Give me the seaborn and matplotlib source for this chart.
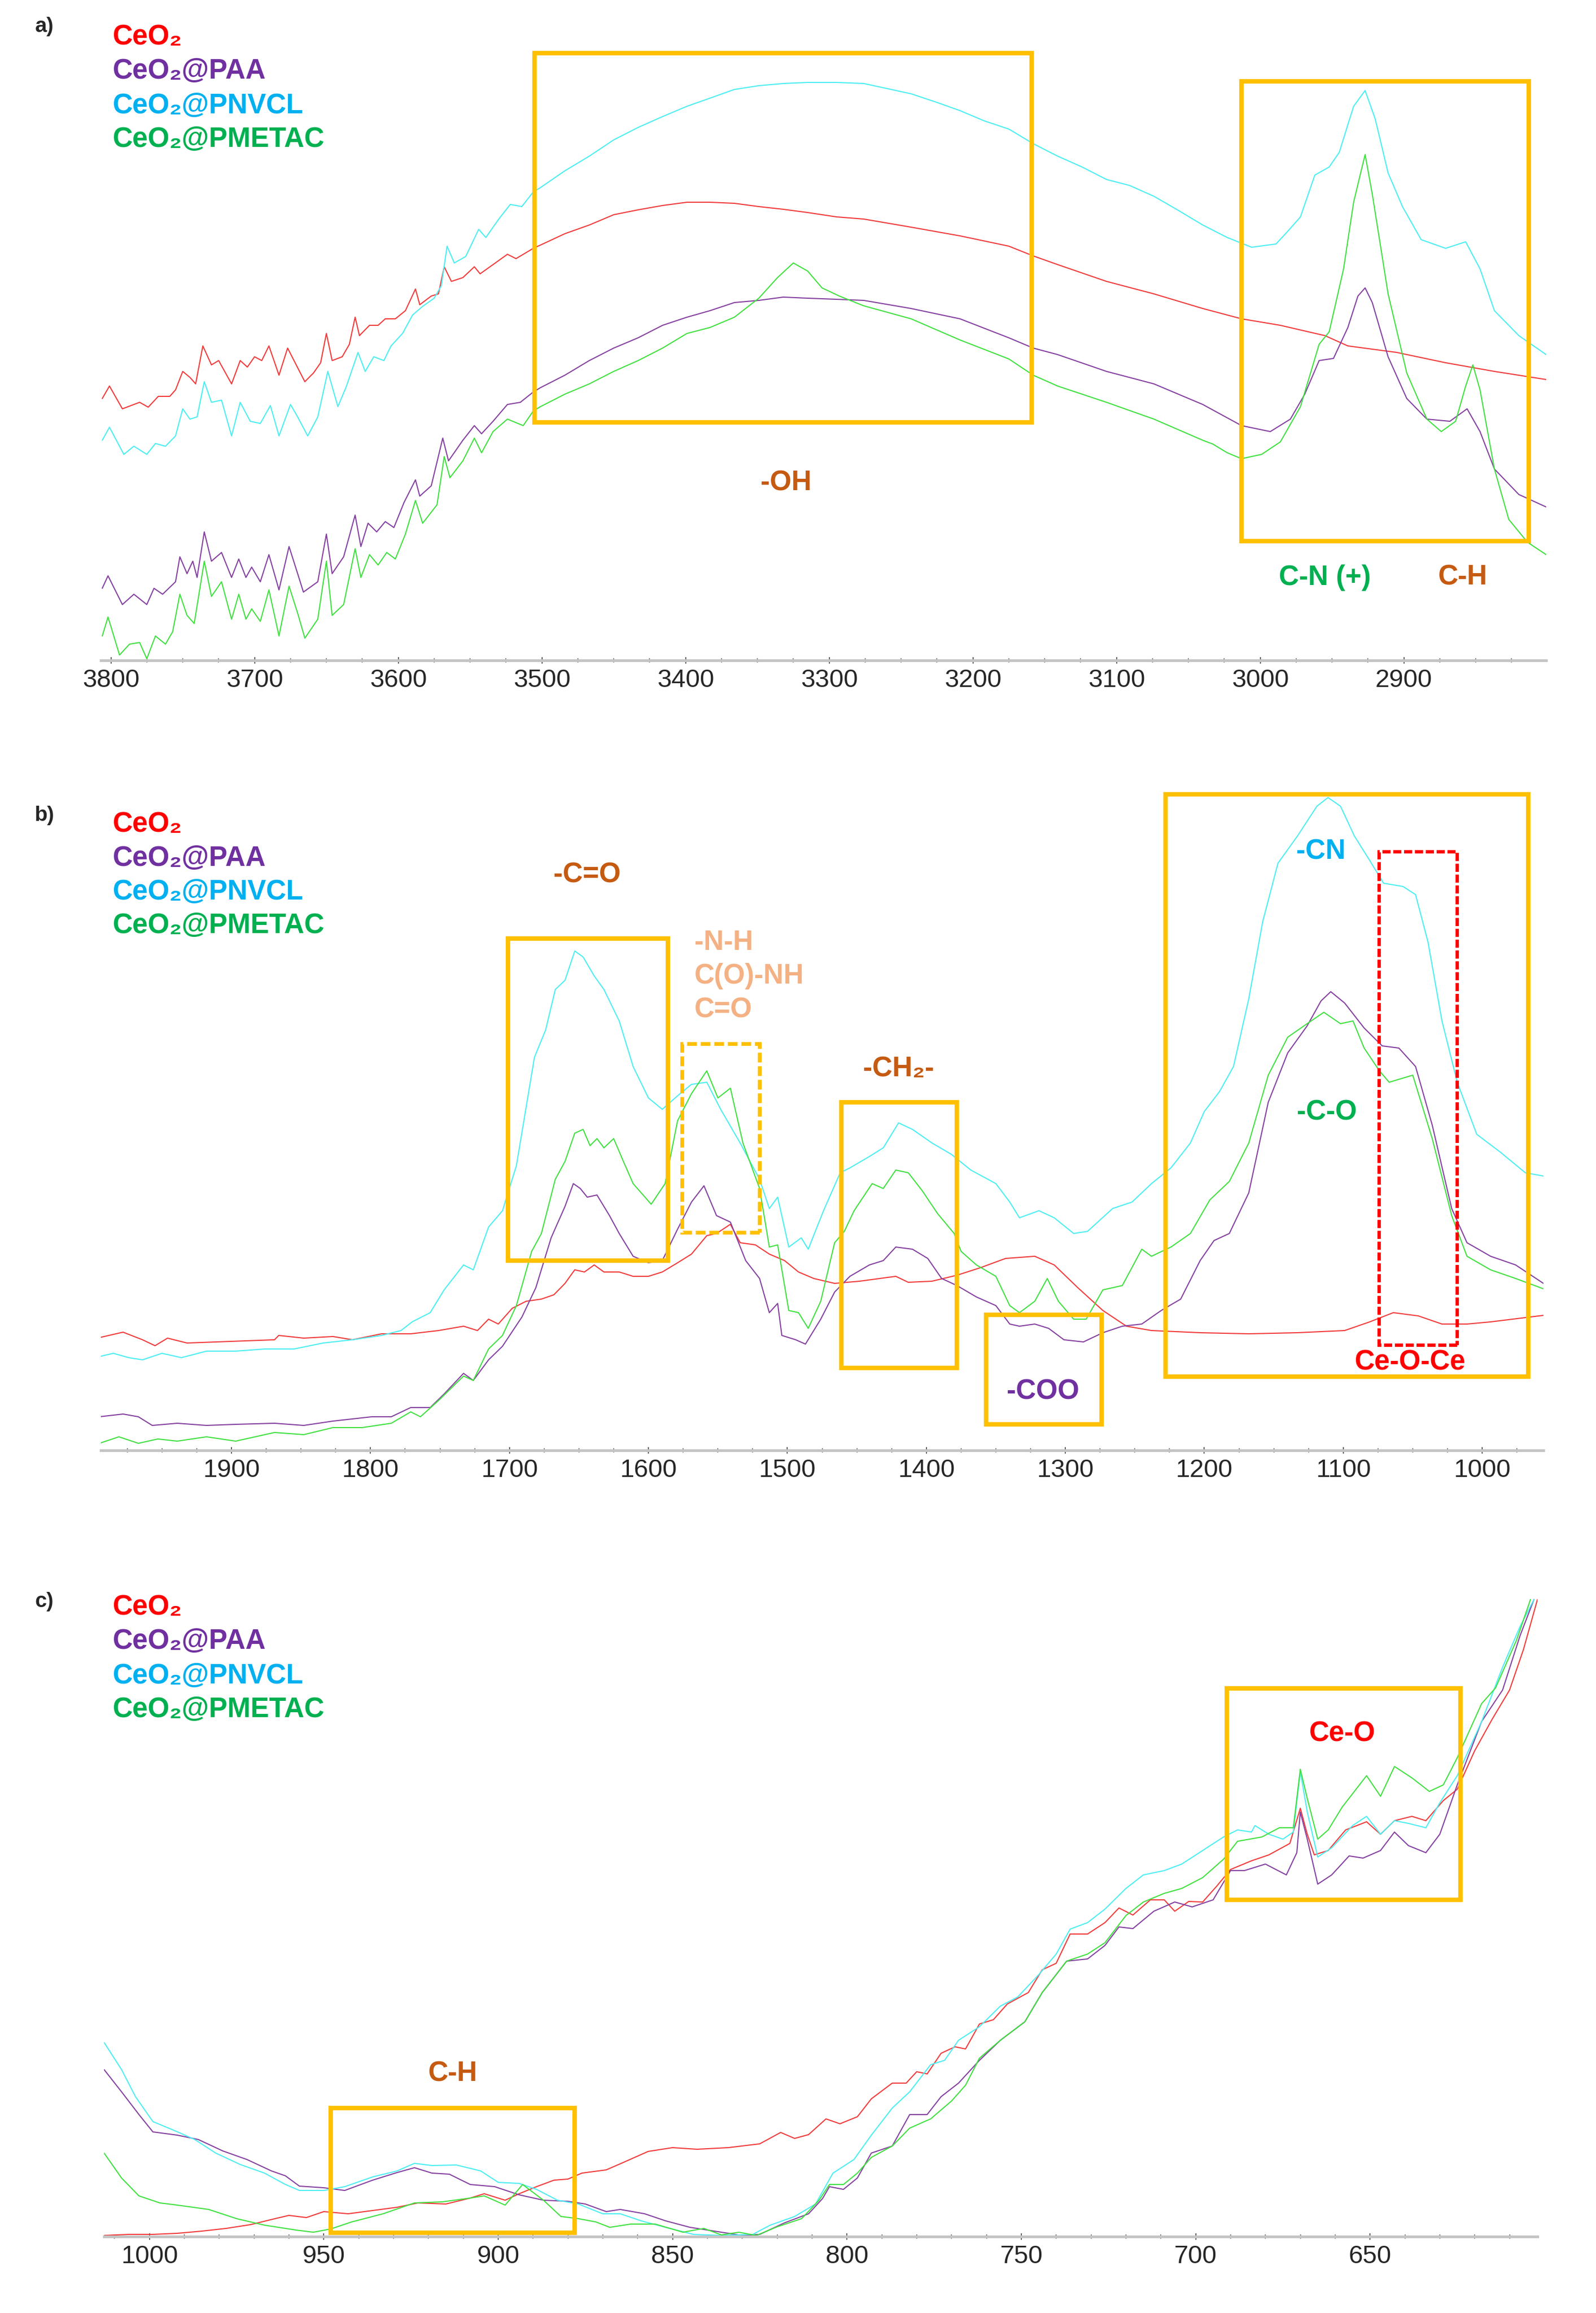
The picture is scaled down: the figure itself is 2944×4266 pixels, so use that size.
import matplotlib
matplotlib.use("Agg")
import matplotlib.pyplot as plt
from matplotlib.patches import Rectangle
from matplotlib.ticker import MultipleLocator
import pandas as pd
import seaborn as sns

samples = ['CeO₂', 'CeO₂@PAA', 'CeO₂@PNVCL', 'CeO₂@PMETAC']
line_colors = ['#F23A3A', '#8540A0', '#4CEEF2', '#40E040']
label_colors = ['#FF0000', '#7030A0', '#00B0F0', '#00B050']

# panel a) 3800-2800 cm-1, (wavenumber, signal)
a_ceo2 = [(3806, 483), (3801, 506), (3792, 464), (3780, 476), (3774, 467), (3767, 487), (3759, 487), (3755, 499),
          (3750, 533), (3745, 522), (3741, 510), (3736, 580), (3730, 545), (3725, 553), (3716, 510), (3710, 553),
          (3705, 541), (3700, 560), (3695, 553), (3690, 580), (3683, 526), (3677, 576), (3671, 545), (3665, 514),
          (3659, 530), (3654, 549), (3650, 603), (3646, 553), (3639, 560), (3634, 583), (3630, 633), (3627, 599),
          (3620, 618), (3614, 618), (3609, 630), (3602, 630), (3595, 645), (3588, 685), (3585, 656), (3577, 672),
          (3572, 676), (3568, 726), (3563, 699), (3555, 706), (3547, 726), (3543, 713), (3534, 730), (3524, 749),
          (3518, 741), (3506, 760), (3501, 766), (3484, 787), (3467, 803), (3450, 822), (3433, 831), (3416, 839),
          (3399, 845), (3383, 845), (3366, 843), (3349, 837), (3332, 832), (3315, 826), (3295, 818), (3276, 814),
          (3243, 799), (3209, 783), (3175, 764), (3158, 746), (3141, 730), (3107, 699), (3074, 676), (3040, 649),
          (3013, 630), (2986, 618), (2955, 599), (2939, 580), (2905, 568), (2871, 549), (2837, 533), (2801, 518)]
a_paa = [(3806, 133), (3802, 156), (3792, 103), (3784, 122), (3775, 103), (3770, 133), (3764, 122), (3755, 145),
         (3752, 191), (3747, 160), (3743, 183), (3740, 153), (3735, 237), (3730, 183), (3723, 199), (3716, 153),
         (3711, 187), (3706, 153), (3702, 172), (3696, 145), (3690, 195), (3683, 130), (3676, 210), (3670, 160),
         (3666, 126), (3656, 145), (3650, 233), (3646, 160), (3638, 191), (3630, 268), (3626, 210), (3621, 253),
         (3615, 237), (3609, 256), (3603, 245), (3596, 291), (3588, 333), (3585, 303), (3577, 322), (3569, 410),
         (3565, 368), (3555, 406), (3547, 433), (3542, 418), (3534, 441), (3524, 472), (3515, 476), (3506, 495),
         (3501, 503), (3484, 526), (3467, 553), (3450, 576), (3433, 595), (3416, 618), (3399, 633), (3383, 645),
         (3366, 660), (3349, 664), (3332, 670), (3315, 668), (3295, 666), (3276, 664), (3243, 649), (3209, 630),
         (3175, 595), (3158, 576), (3141, 564), (3107, 533), (3074, 510), (3040, 472), (3013, 433), (2993, 422),
         (2979, 445), (2969, 491), (2959, 553), (2949, 557), (2939, 614), (2932, 672), (2927, 687), (2922, 660),
         (2911, 560), (2898, 483), (2884, 445), (2868, 441), (2856, 464), (2847, 422), (2837, 353), (2820, 306),
         (2801, 283)]
a_pnvcl = [(3806, 406), (3801, 430), (3791, 380), (3784, 395), (3775, 380), (3769, 400), (3762, 395), (3755, 414),
           (3750, 464), (3745, 445), (3740, 449), (3735, 514), (3730, 476), (3723, 480), (3716, 414), (3710, 476),
           (3703, 441), (3696, 437), (3689, 470), (3683, 414), (3675, 472), (3670, 449), (3663, 414), (3656, 449),
           (3649, 533), (3642, 468), (3636, 506), (3628, 568), (3623, 533), (3617, 560), (3610, 553), (3605, 580),
           (3597, 603), (3590, 637), (3583, 653), (3575, 668), (3570, 691), (3566, 764), (3561, 733), (3553, 745),
           (3544, 795), (3539, 780), (3530, 814), (3522, 841), (3514, 837), (3506, 864), (3501, 872), (3484, 903),
           (3467, 930), (3450, 960), (3433, 983), (3416, 1003), (3399, 1022), (3383, 1037), (3366, 1053),
           (3349, 1060), (3332, 1064), (3315, 1066), (3295, 1066), (3276, 1064), (3243, 1045), (3226, 1030),
           (3209, 1014), (3192, 995), (3175, 980), (3158, 953), (3141, 930), (3124, 910), (3107, 887), (3091, 876),
           (3074, 856), (3057, 830), (3040, 803), (3023, 780), (3006, 762), (2989, 768), (2981, 791), (2972, 818),
           (2962, 895), (2952, 910), (2945, 937), (2935, 1022), (2927, 1051), (2920, 999), (2911, 899), (2901, 837),
           (2888, 776), (2871, 760), (2857, 772), (2847, 722), (2837, 645), (2820, 599), (2801, 564)]
a_pmetac = [(3806, 45), (3802, 80), (3794, 10), (3787, 30), (3780, 33), (3775, 3), (3769, 45), (3762, 30),
            (3757, 53), (3752, 122), (3747, 83), (3742, 68), (3735, 183), (3730, 118), (3723, 145), (3716, 76),
            (3711, 122), (3706, 76), (3702, 95), (3696, 72), (3690, 130), (3683, 45), (3676, 137), (3670, 87),
            (3665, 41), (3656, 76), (3650, 183), (3646, 83), (3638, 103), (3630, 206), (3626, 153), (3620, 195),
            (3614, 176), (3608, 199), (3602, 187), (3595, 233), (3588, 295), (3583, 253), (3573, 287), (3568, 376),
            (3564, 337), (3555, 368), (3547, 410), (3542, 383), (3534, 422), (3524, 445), (3513, 433), (3506, 460),
            (3501, 468), (3484, 491), (3467, 510), (3450, 533), (3433, 553), (3416, 576), (3399, 603), (3383, 614),
            (3366, 633), (3349, 668), (3336, 706), (3325, 733), (3315, 718), (3305, 687), (3293, 672), (3276, 654),
            (3243, 630), (3209, 591), (3175, 556), (3158, 526), (3141, 506), (3107, 476), (3074, 445), (3040, 406),
            (3033, 399), (3023, 383), (3013, 372), (2999, 380), (2986, 403), (2972, 468), (2959, 583), (2952, 606),
            (2942, 722), (2935, 845), (2927, 933), (2922, 860), (2911, 676), (2898, 530), (2884, 445), (2874, 422),
            (2864, 441), (2857, 506), (2852, 545), (2847, 499), (2837, 353), (2827, 260), (2814, 218), (2801, 195)]

# panel b) 2000-960 cm-1
b_ceo2 = [(1995, 208), (1978, 218), (1964, 204), (1955, 193), (1946, 207), (1932, 198), (1911, 200), (1890, 202),
          (1869, 204), (1866, 212), (1848, 207), (1827, 210), (1813, 204), (1792, 215), (1771, 215), (1751, 221),
          (1733, 229), (1723, 221), (1715, 242), (1708, 233), (1698, 262), (1688, 275), (1677, 279), (1668, 287),
          (1660, 308), (1653, 333), (1646, 329), (1639, 342), (1632, 329), (1621, 329), (1611, 321), (1600, 321),
          (1590, 329), (1579, 346), (1569, 362), (1558, 396), (1551, 400), (1541, 417), (1534, 383), (1523, 379),
          (1513, 362), (1502, 350), (1492, 329), (1481, 317), (1466, 308), (1448, 312), (1422, 321), (1413, 310),
          (1396, 312), (1378, 323), (1361, 337), (1343, 354), (1322, 358), (1308, 342), (1291, 300), (1273, 258),
          (1256, 229), (1238, 221), (1203, 217), (1168, 215), (1133, 217), (1099, 221), (1081, 237), (1064, 254),
          (1046, 248), (1029, 233), (1011, 233), (994, 237), (956, 249)]
b_paa = [(1995, 62), (1978, 67), (1967, 62), (1957, 46), (1939, 50), (1918, 46), (1897, 48), (1869, 50), (1848, 46),
         (1827, 54), (1799, 62), (1785, 62), (1771, 79), (1757, 79), (1747, 104), (1733, 142), (1726, 129),
         (1715, 167), (1705, 192), (1691, 246), (1681, 300), (1670, 392), (1660, 450), (1654, 492), (1649, 483),
         (1644, 467), (1637, 471), (1628, 433), (1621, 400), (1611, 358), (1600, 346), (1590, 350), (1579, 408),
         (1569, 458), (1560, 488), (1551, 433), (1541, 421), (1530, 350), (1520, 317), (1513, 254), (1507, 271),
         (1504, 212), (1494, 204), (1487, 196), (1476, 242), (1466, 292), (1455, 321), (1441, 342), (1431, 350),
         (1422, 375), (1410, 371), (1399, 354), (1389, 317), (1378, 304), (1364, 283), (1350, 267), (1340, 233),
         (1333, 229), (1322, 233), (1312, 225), (1301, 204), (1287, 200), (1273, 217), (1259, 229), (1245, 233),
         (1231, 258), (1217, 279), (1203, 350), (1193, 387), (1182, 400), (1168, 475), (1154, 642), (1140, 733),
         (1126, 783), (1116, 829), (1109, 846), (1099, 825), (1085, 779), (1072, 746), (1060, 742), (1048, 708),
         (1036, 600), (1022, 446), (1011, 383), (994, 358), (976, 342), (956, 308)]
b_pnvcl = [(1995, 173), (1985, 179), (1974, 171), (1964, 167), (1950, 179), (1936, 171), (1918, 183), (1897, 183),
           (1876, 187), (1855, 187), (1834, 198), (1813, 204), (1792, 212), (1778, 221), (1770, 237), (1757, 254),
           (1747, 296), (1733, 342), (1726, 333), (1715, 412), (1705, 442), (1695, 525), (1682, 725), (1674, 775),
           (1667, 850), (1660, 867), (1653, 921), (1647, 910), (1639, 875), (1632, 850), (1621, 792), (1611, 708),
           (1600, 650), (1590, 629), (1579, 654), (1569, 675), (1558, 679), (1548, 629), (1534, 567), (1520, 500),
           (1513, 446), (1507, 467), (1499, 375), (1490, 392), (1485, 371), (1474, 442), (1462, 512), (1455, 521),
           (1441, 542), (1431, 558), (1420, 604), (1410, 592), (1396, 567), (1382, 546), (1368, 517), (1350, 492),
           (1340, 458), (1333, 429), (1319, 442), (1308, 429), (1294, 400), (1284, 404), (1266, 446), (1252, 458),
           (1238, 492), (1224, 521), (1210, 567), (1200, 625), (1189, 662), (1179, 708), (1168, 833), (1158, 975),
           (1147, 1083), (1133, 1133), (1119, 1188), (1111, 1204), (1102, 1188), (1092, 1133), (1081, 1088),
           (1071, 1046), (1057, 1040), (1048, 1025), (1039, 937), (1029, 792), (1018, 679), (1004, 583), (987, 550),
           (969, 512), (956, 506)]
b_pmetac = [(1995, 13), (1981, 25), (1967, 13), (1953, 21), (1939, 17), (1918, 25), (1897, 17), (1869, 33),
            (1848, 29), (1827, 42), (1806, 42), (1785, 50), (1771, 71), (1764, 62), (1751, 92), (1733, 137),
            (1726, 129), (1715, 187), (1705, 212), (1695, 267), (1684, 367), (1677, 400), (1667, 500), (1660, 533),
            (1653, 585), (1647, 592), (1642, 562), (1637, 575), (1632, 558), (1625, 575), (1618, 533), (1611, 492),
            (1598, 454), (1588, 492), (1579, 608), (1569, 658), (1558, 700), (1550, 650), (1541, 668), (1532, 567),
            (1520, 483), (1513, 375), (1507, 379), (1499, 258), (1492, 254), (1485, 225), (1476, 275), (1466, 383),
            (1459, 404), (1452, 442), (1439, 492), (1431, 483), (1422, 517), (1413, 512), (1403, 479), (1392, 437),
            (1380, 400), (1375, 367), (1364, 342), (1350, 321), (1340, 267), (1333, 254), (1322, 275), (1313, 317),
            (1305, 275), (1294, 242), (1285, 242), (1273, 296), (1259, 304), (1245, 371), (1238, 358), (1224, 375),
            (1210, 400), (1196, 462), (1182, 496), (1168, 567), (1154, 692), (1140, 762), (1126, 787), (1114, 808),
            (1102, 787), (1093, 792), (1085, 742), (1074, 700), (1067, 679), (1050, 692), (1036, 575), (1022, 433),
            (1011, 358), (994, 333), (976, 317), (956, 298)]

# panel c) 1010-600 cm-1
c_ceo2 = [(1013, 2), (1006, 4), (999, 4), (992, 6), (985, 10), (978, 15), (971, 22), (964, 33), (960, 39), (955, 35),
          (950, 46), (943, 42), (936, 48), (929, 54), (923, 62), (915, 60), (908, 71), (904, 79), (898, 67),
          (894, 79), (889, 92), (884, 104), (880, 106), (876, 117), (869, 123), (864, 137), (857, 157), (850, 164),
          (843, 161), (834, 164), (825, 171), (819, 192), (815, 181), (811, 188), (806, 217), (802, 208), (797, 221),
          (793, 254), (787, 283), (783, 283), (780, 304), (777, 300), (773, 338), (769, 350), (766, 346), (762, 392),
          (758, 400), (754, 429), (748, 450), (744, 492), (740, 504), (736, 558), (731, 558), (726, 579), (722, 606),
          (718, 593), (713, 621), (709, 621), (706, 600), (702, 618), (698, 617), (694, 646), (690, 677), (684, 693),
          (679, 704), (673, 725), (670, 790), (668, 742), (666, 704), (662, 712), (657, 750), (651, 765), (647, 742),
          (643, 767), (638, 775), (634, 767), (629, 804), (625, 825), (620, 896), (615, 954), (610, 1008),
          (606, 1083), (602, 1175)]
c_paa = [(1013, 308), (1008, 267), (1003, 225), (999, 193), (992, 187), (986, 179), (979, 158), (972, 142),
         (965, 121), (961, 112), (957, 93), (950, 90), (944, 85), (936, 104), (929, 118), (924, 127), (919, 117),
         (914, 115), (908, 96), (901, 92), (894, 77), (887, 67), (880, 65), (875, 60), (869, 46), (865, 50), (858, 42),
         (852, 29), (845, 17), (838, 10), (830, 2), (825, 4), (818, 25), (811, 42), (807, 70), (805, 92), (801, 87),
         (797, 108), (793, 154), (787, 167), (782, 225), (777, 225), (773, 258), (768, 283), (762, 325), (756, 362),
         (749, 396), (744, 450), (737, 508), (731, 512), (726, 537), (722, 571), (718, 568), (712, 600), (706, 617),
         (701, 608), (695, 621), (690, 675), (686, 675), (680, 687), (674, 667), (671, 708), (670, 783), (668, 733),
         (665, 650), (661, 667), (656, 702), (652, 698), (647, 712), (643, 746), (639, 721), (634, 708), (630, 742),
         (625, 833), (618, 950), (612, 1008), (607, 1108), (603, 1175)]
c_pnvcl = [(1013, 358), (1008, 308), (1004, 258), (999, 212), (993, 196), (987, 179), (981, 154), (974, 133),
           (967, 117), (961, 96), (957, 85), (950, 85), (944, 92), (936, 110), (929, 121), (924, 135), (919, 131),
           (912, 132), (905, 121), (900, 100), (894, 98), (889, 87), (883, 67), (877, 60), (870, 42), (865, 42),
           (859, 29), (852, 17), (844, 4), (836, 2), (827, 4), (822, 21), (815, 37), (809, 60), (804, 117), (798, 142),
           (793, 187), (787, 237), (782, 267), (776, 317), (772, 325), (768, 362), (762, 387), (756, 425), (751, 442),
           (745, 483), (740, 521), (736, 567), (731, 579), (726, 604), (720, 642), (715, 667), (709, 675), (704, 687),
           (698, 712), (692, 737), (688, 750), (684, 746), (683, 758), (679, 742), (675, 733), (672, 746), (670, 858),
           (668, 783), (665, 700), (661, 717), (655, 758), (651, 775), (647, 742), (643, 767), (639, 762), (634, 754),
           (630, 800), (625, 850), (618, 950), (612, 1050), (607, 1125), (603, 1175)]
c_pmetac = [(1013, 154), (1008, 108), (1003, 75), (997, 62), (992, 58), (983, 50), (975, 33), (967, 21), (958, 12),
            (953, 8), (948, 14), (942, 27), (933, 42), (924, 62), (916, 64), (908, 71), (904, 75), (898, 58),
            (893, 96), (887, 67), (882, 37), (877, 33), (872, 27), (868, 17), (862, 23), (855, 23), (847, 8), (841, 15),
            (836, 3), (831, 8), (826, 2), (820, 18), (813, 33), (808, 67), (805, 96), (801, 96), (797, 117),
            (793, 146), (787, 167), (782, 200), (776, 217), (770, 250), (766, 279), (762, 329), (756, 362), (749, 396),
            (744, 450), (737, 508), (731, 521), (726, 542), (720, 592), (715, 617), (709, 633), (704, 642), (698, 662),
            (692, 696), (688, 729), (681, 737), (676, 754), (672, 754), (670, 862), (668, 808), (665, 733), (662, 750),
            (658, 792), (651, 850), (647, 812), (643, 867), (638, 846), (633, 821), (629, 833), (625, 883), (618, 983),
            (614, 1012), (608, 1100), (604, 1175)]

# highlighted regions: (wn_high, wn_low, signal_low, signal_high)
a_boxes = [(3505, 3159, 439, 1120), (3013, 2813, 220, 1068)]
b_boxes = [(1701, 1586, 350, 944), (1461, 1378, 152, 642), (1357, 1274, 48, 250), (1228, 967, 136, 1210)]
b_dashed_box = (1576, 1520, 402, 750)
b_red_box = (1074, 1018, 194, 1104)
c_boxes = [(948, 878, 7, 237), (691, 624, 621, 1011)]

brown = '#C55A11'
a_notes = [('-OH', 3330, 327, brown), ('C-N (+)', 2955, 153, '#00B050'), ('C-H', 2859, 153, brown)]
b_notes = [('-C=O', 1644, 1061, brown), ('-CH₂-', 1420, 704, brown), ('-COO', 1316, 108, '#7030A0'),
           ('-CN', 1116, 1104, '#00B0F0'), ('-C-O', 1112, 623, '#00B050'), ('Ce-O-Ce', 1052, 162, '#FF0000')]
b_nh_notes = ['-N-H', 'C(O)-NH', 'C=O']
c_notes = [('C-H', 913, 300, brown), ('Ce-O', 658, 927, '#FF0000')]

sns.set_style('white')
plt.rcParams['font.family'] = ['Liberation Sans', 'DejaVu Sans']

W, H = 2944, 4266
fig = plt.figure(figsize=(W / 100, H / 100), dpi=100)


def make_df(series):
    rows = []
    for name, pts in zip(samples, series):
        for wn, s in pts:
            rows.append({'wn': wn, 'signal': s, 'sample': name})
    return pd.DataFrame(rows)


def add_box(ax, box, color='#FFC000', lw=6, ls='-'):
    hi, lo, y0, y1 = box
    r = Rectangle((lo, y0), hi - lo, y1 - y0, fill=False, edgecolor=color, linewidth=lw,
                  linestyle=ls, clip_on=False, zorder=5)
    ax.add_patch(r)
    return r


def panel(rect_px, series, xlim, ylim, major, minor):
    left, right, top, bottom = rect_px
    ax = fig.add_axes([left / W, 1 - bottom / H, (right - left) / W, (bottom - top) / H])
    df = make_df(series)
    sns.lineplot(data=df, x='wn', y='signal', hue='sample', hue_order=samples,
                 palette=dict(zip(samples, line_colors)), estimator=None, linewidth=1.5,
                 legend=False, ax=ax)
    ax.set_xlim(*xlim)
    ax.set_ylim(*ylim)
    ax.set_xlabel('')
    ax.set_ylabel('')
    ax.set_yticks([])
    ax.xaxis.set_major_locator(MultipleLocator(major))
    ax.xaxis.set_minor_locator(MultipleLocator(minor))
    for s in ['left', 'top', 'right']:
        ax.spines[s].set_visible(False)
    ax.spines['bottom'].set_color('#C4C4C4')
    ax.spines['bottom'].set_linewidth(3.6)
    ax.tick_params(axis='x', which='major', direction='inout', length=8, width=1.3,
                   color='#505050', labelsize=34, pad=7, bottom=True)
    ax.tick_params(axis='x', which='minor', direction='inout', length=5.5, width=1.1,
                   color='#606060', bottom=True)
    ax.set_facecolor('none')
    return ax


def legend_block(y_px_list, tag, tag_y):
    fig.text(82 / W, 1 - tag_y / H, tag, fontsize=28, fontweight='bold', ha='center', va='center')
    for y, name, col in zip(y_px_list, samples, label_colors):
        fig.text(208 / W, 1 - y / H, name, color=col, fontsize=37, fontweight='bold',
                 ha='left', va='center')


# a)
ax_a = panel((186, 2852, 88, 1218), [a_ceo2, a_paa, a_pnvcl, a_pmetac], (3807, 2801), (0, 1130), 100, 25)
for b in a_boxes:
    add_box(ax_a, b)
for txt, x, y, col in a_notes:
    ax_a.text(x, y, txt, color=col, fontsize=37, fontweight='bold', ha='center', va='center')
legend_block([69, 131, 196, 258], 'a)', 49)

# b)
ax_b = panel((186, 2847, 1460, 2675), [b_ceo2, b_paa, b_pnvcl, b_pmetac], (1994, 956), (0, 1215), 100, 25)
for b in b_boxes:
    add_box(ax_b, b)
add_box(ax_b, b_dashed_box, lw=5, ls=(0, (2.6, 1.0)))
add_box(ax_b, b_red_box, color='#FF0000', lw=4.5, ls=(0, (2.4, 0.8)))
for txt, x, y, col in b_notes:
    ax_b.text(x, y, txt, color=col, fontsize=37, fontweight='bold', ha='center', va='center')
for txt, y in zip(b_nh_notes, [937, 875, 812]):
    ax_b.text(1567, y, txt, color='#F4B183', fontsize=37, fontweight='bold', ha='left', va='center')
legend_block([1521, 1583, 1646, 1708], 'b)', 1504)

# c)
ax_c = panel((192, 2836, 2935, 4125), [c_ceo2, c_paa, c_pnvcl, c_pmetac], (1013, 602), (0, 1190), 50, 10)
for b in c_boxes:
    add_box(ax_c, b)
for txt, x, y, col in c_notes:
    ax_c.text(x, y, txt, color=col, fontsize=37, fontweight='bold', ha='center', va='center')
legend_block([2965, 3027, 3092, 3154], 'c)', 2954)

fig.savefig('out.png', dpi=100, facecolor='white')
